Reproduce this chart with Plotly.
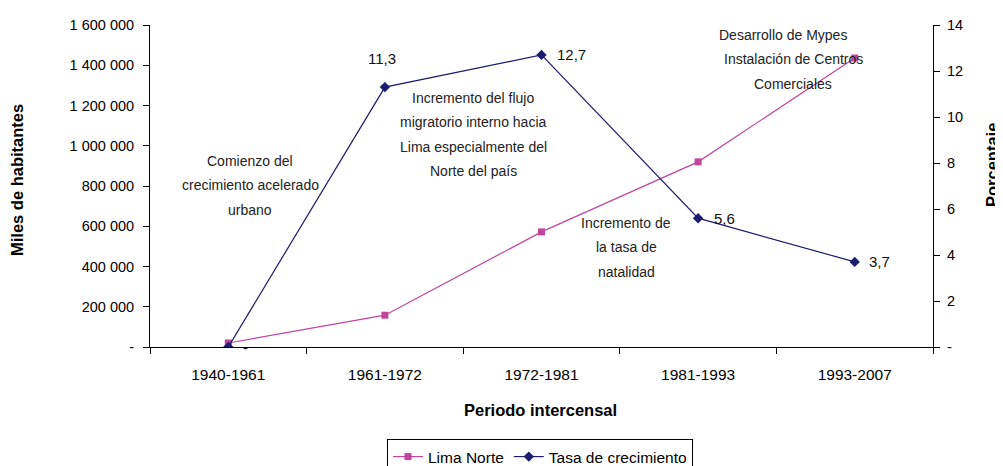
import plotly.graph_objects as go

# ---------------- data ----------------
periods = ["1940-1961", "1961-1972", "1972-1981", "1981-1993", "1993-2007"]
lima_norte = [20000, 158000, 572000, 920000, 1436000]
tasa = [0.0, 11.3, 12.7, 5.6, 3.7]

left_tickvals = [0, 200000, 400000, 600000, 800000, 1000000, 1200000, 1400000, 1600000]
left_ticktext = ["-", "200 000", "400 000", "600 000", "800 000", "1 000 000", "1 200 000", "1 400 000", "1 600 000"]
right_tickvals = [0, 2, 4, 6, 8, 10, 12, 14]
right_ticktext = ["-", "2", "4", "6", "8", "10", "12", "14"]

# data-label offsets (pixels) for the growth-rate labels
label_dx = [17, -3, 30, 26, 25]
label_dy = [0, 29, 0, 0, 0]

# text notes: lines, per-line centre x (px), first-line y (px)
notes = [
    (["Comienzo del", "crecimiento acelerado", "urbano"], [250, 250, 250], 161),
    (["Incremento del flujo", "migratorio interno hacia", "Lima especialmente del", "Norte del país"],
     [473, 473, 473, 473], 98),
    (["Incremento de", "la tasa de", "natalidad"], [626, 626, 626], 223),
    (["Desarrollo de Mypes", "Instalación de Centros", "Comerciales"], [783, 793, 793], 35),
]
line_gap = 24.3

# ---------------- geometry (page pixels; body has an 8px margin) ----------------
OFF = 8
PAGE_W, PAGE_H = 1003, 466
PL, PR, PT, PB = 150, 933, 25, 347          # plot box in page pixels
W, H = PAGE_W - OFF, PAGE_H - OFF
L, T = PL - OFF, PT - OFF
R, B = PAGE_W - PR, PAGE_H - PB
PW, PH = PR - PL, PB - PT

def px2paper(px, py):
    return (px - PL) / PW, (PB - py) / PH

FONT = "Liberation Sans, Arial, sans-serif"
magenta = "#C2449F"
navy = "#1B1B6F"

fig = go.Figure()
fig.add_trace(go.Scatter(
    x=periods, y=lima_norte, name="Lima Norte", mode="lines+markers",
    line=dict(color=magenta, width=1.2),
    marker=dict(symbol="square", size=7, color=magenta),
    yaxis="y",
))
fig.add_trace(go.Scatter(
    x=periods, y=tasa, name="Tasa de crecimiento", mode="lines+markers",
    line=dict(color=navy, width=1.2),
    marker=dict(symbol="diamond", size=8, color=navy),
    yaxis="y2",
))

annotations = []
for p, v, dx, dy in zip(periods, tasa, label_dx, label_dy):
    txt = "-" if v == 0 else f"{v:.1f}".replace(".", ",")
    annotations.append(dict(
        x=p, y=v, xref="x", yref="y2", text=txt, showarrow=False,
        xanchor="center", yanchor="middle", xshift=dx, yshift=dy,
        font=dict(family=FONT, size=15, color="#111111"),
    ))
for lines, xs, y0 in notes:
    for i, (ln, xc) in enumerate(zip(lines, xs)):
        xp, yp = px2paper(xc, y0 + i * line_gap)
        annotations.append(dict(
            x=xp, y=yp, xref="paper", yref="paper", text=ln, showarrow=False,
            xanchor="center", yanchor="middle",
            font=dict(family=FONT, size=14, color="#222222"),
        ))
for txt, (px, py), ang in [
    ("Miles de habitantes", (17, 180), -90),
    ("Porcentaje", (992, 165), -90),
    ("Periodo intercensal", (540, 410), 0),
]:
    xp, yp = px2paper(px, py)
    annotations.append(dict(
        x=xp, y=yp, xref="paper", yref="paper", text=f"<b>{txt}</b>",
        showarrow=False, xanchor="center", yanchor="middle", textangle=ang,
        font=dict(family=FONT, size=16.5, color="#000000"),
    ))

fig.update_layout(
    width=W, height=H,
    margin=dict(l=L, r=R, t=T, b=B, autoexpand=False),
    paper_bgcolor="white", plot_bgcolor="white",
    font=dict(family=FONT, size=14, color="#000000"),
    showlegend=True,
    legend=dict(
        orientation="h", x=(540 - PL) / PW, xanchor="center", y=-(439 - PB) / PH, yanchor="top",
        bordercolor="#000000", borderwidth=1, bgcolor="white",
        font=dict(family=FONT, size=15.5, color="#000000"),
        itemwidth=30, tracegroupgap=0,
    ),
    xaxis=dict(
        type="category", showgrid=False, zeroline=False,
        showline=True, linecolor="#000000", linewidth=1,
        ticks="outside", ticklen=6, tickcolor="#000000", tickson="boundaries",
        ticklabelstandoff=13,
        tickfont=dict(family=FONT, size=15.5, color="#000000"),
        range=[-0.5, 4.5],
    ),
    yaxis=dict(
        range=[0, 1600000], showgrid=False, zeroline=False,
        showline=True, linecolor="#000000", linewidth=1,
        ticks="outside", ticklen=6, tickcolor="#000000",
        tickvals=left_tickvals, ticktext=left_ticktext,
        ticklabelstandoff=6,
        tickfont=dict(family=FONT, size=14.5, color="#000000"),
    ),
    yaxis2=dict(
        range=[0, 14], overlaying="y", side="right", showgrid=False, zeroline=False,
        showline=True, linecolor="#000000", linewidth=1,
        ticks="outside", ticklen=6, tickcolor="#000000",
        tickvals=right_tickvals, ticktext=right_ticktext,
        ticklabelstandoff=4,
        tickfont=dict(family=FONT, size=14.5, color="#000000"),
    ),
    annotations=annotations,
)

fig.write_html("out.html")
